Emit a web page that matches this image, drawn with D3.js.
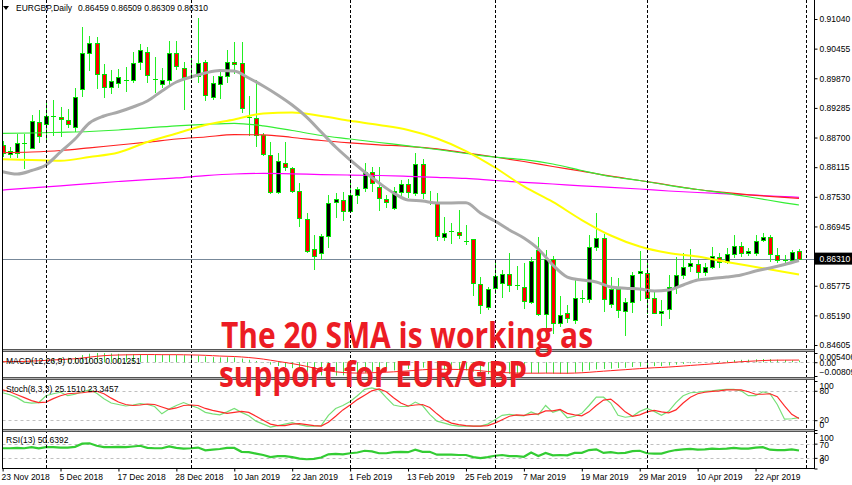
<!DOCTYPE html>
<html><head><meta charset="utf-8">
<script src="https://cdn.jsdelivr.net/npm/d3@7"></script>
<style>html,body{margin:0;padding:0;background:#fff;overflow:hidden}</style>
</head><body>
<svg id="c" width="852" height="485"></svg>
<script>
// ---------- DATA ----------
const opens = [0.88553,0.88375,0.88401,0.88598,0.88499,0.89013,0.88961,0.89125,0.89100,0.89046,
0.88914,0.89652,0.90375,0.90560,0.89948,0.89704,0.89783,0.89836,0.89836,0.90197,
0.90394,0.89850,0.89757,0.89836,0.90363,0.90067,0.89921,0.89915,0.90197,0.89506,
0.89751,0.89915,0.90197,0.90166,0.89100,0.89080,0.88750,0.88355,0.87619,0.88203,
0.88093,0.87645,0.87092,0.86494,0.86415,0.86756,0.87433,0.87467,0.87256,0.87566,
0.87698,0.88026,0.87730,0.87481,0.87303,0.87631,0.87783,0.87599,0.88178,0.87402,
0.87433,0.86743,0.86861,0.86835,0.86664,0.86691,0.85809,0.85349,0.85724,0.85835,
0.86006,0.85783,0.85756,0.85459,0.86480,0.85211,0.86296,0.85045,0.85230,0.85098,
0.85527,0.85507,0.86533,0.86711,0.85414,0.85704,0.85282,0.85459,0.86020,0.86032,
0.85527,0.85242,0.85309,0.85756,0.85987,0.86164,0.86198,0.86052,0.86150,0.86336,
0.86249,0.86401,0.86559,0.86415,0.86427,0.86677,0.86731,0.86381,0.86283,0.86283,0.86459];
const highs = [0.88632,0.88519,0.88770,0.88770,0.89145,0.89244,0.89441,0.89441,0.89309,0.89263,
0.89678,0.90888,0.90704,0.90679,0.90152,0.90033,0.90047,0.90087,0.90394,0.90546,
0.90481,0.90296,0.90067,0.90612,0.90612,0.90197,0.90296,0.91060,0.90231,0.89915,
0.90033,0.90428,0.90592,0.90592,0.89520,0.89836,0.88784,0.88618,0.88389,0.88618,
0.88124,0.87797,0.87216,0.86776,0.86796,0.87566,0.87611,0.87631,0.87876,0.87730,
0.88192,0.88124,0.88124,0.87566,0.87730,0.87862,0.87876,0.88389,0.88270,0.87651,
0.87599,0.87137,0.87013,0.87260,0.86974,0.86705,0.85953,0.85744,0.86218,0.86085,
0.86415,0.86164,0.86218,0.86336,0.86731,0.86480,0.86362,0.85572,0.85394,0.85921,
0.85690,0.86776,0.87205,0.86796,0.85953,0.85921,0.85527,0.86052,0.86466,0.86249,
0.85690,0.85493,0.85987,0.86348,0.86427,0.86494,0.86283,0.86218,0.86545,0.86427,
0.86514,0.86776,0.86644,0.86514,0.86776,0.86810,0.86776,0.86514,0.86381,0.86480,0.86509];
const lows = [0.88336,0.88322,0.88322,0.88099,0.88494,0.88618,0.88618,0.88750,0.88730,0.88908,
0.88835,0.89520,0.90033,0.89672,0.89494,0.89585,0.89692,0.89625,0.89802,0.90047,
0.89802,0.89605,0.89704,0.89737,0.90047,0.89257,0.89869,0.89802,0.89441,0.89455,
0.89475,0.89802,0.89980,0.89210,0.88750,0.88533,0.88355,0.87599,0.87599,0.88059,
0.87631,0.86954,0.86446,0.86099,0.86302,0.86545,0.87137,0.87072,0.87236,0.87402,
0.87651,0.87651,0.87270,0.87335,0.87283,0.87532,0.87532,0.87566,0.87501,0.87388,
0.86677,0.86677,0.86628,0.86717,0.86598,0.85592,0.85242,0.85309,0.85637,0.85558,
0.85677,0.85704,0.85329,0.85440,0.85197,0.84867,0.84836,0.84980,0.85065,0.85033,
0.85459,0.85459,0.86480,0.85286,0.85361,0.85163,0.84802,0.85262,0.85493,0.85230,
0.85230,0.85000,0.85132,0.85625,0.85921,0.86071,0.85902,0.85987,0.86119,0.86139,
0.86218,0.86348,0.86362,0.86381,0.86381,0.86664,0.86269,0.86249,0.86229,0.86249,0.86309];
const closes = [0.88395,0.88440,0.88598,0.88600,0.89032,0.88730,0.89125,0.89127,0.89060,0.88967,
0.89494,0.90363,0.90572,0.89954,0.89704,0.89822,0.89889,0.89838,0.90166,0.90428,
0.89935,0.89852,0.89836,0.90375,0.90112,0.89901,0.89923,0.90166,0.89530,0.89783,
0.89915,0.90197,0.90152,0.89277,0.89102,0.88750,0.88369,0.87619,0.88243,0.88113,
0.87651,0.87106,0.86466,0.86362,0.86756,0.87414,0.87493,0.87256,0.87566,0.87678,
0.88026,0.87797,0.87501,0.87433,0.87651,0.87783,0.87631,0.88178,0.87599,0.87433,
0.86756,0.86822,0.86863,0.86776,0.86666,0.85823,0.85394,0.85704,0.85967,0.86006,
0.85789,0.85785,0.85479,0.86263,0.85211,0.86296,0.85045,0.85197,0.85132,0.85527,
0.85529,0.86533,0.86711,0.85507,0.85704,0.85296,0.85459,0.85987,0.86071,0.85527,
0.85242,0.85282,0.85756,0.85987,0.86150,0.86218,0.86052,0.86139,0.86362,0.86249,
0.86401,0.86559,0.86427,0.86466,0.86664,0.86731,0.86401,0.86283,0.86285,0.86446,0.86310];

// moving averages (sampled: sma20 every 2 bars; others every 4 bars + last bar)
const sma20 = [0.88026,0.87980,0.88049,0.88158,0.88415,0.88671,0.88987,0.89125,0.89204,0.89303,
0.89421,0.89619,0.89796,0.89895,0.89974,0.90023,0.90014,0.89875,0.89717,0.89540,
0.89342,0.89105,0.88809,0.88513,0.88257,0.88020,0.87803,0.87605,0.87467,0.87447,
0.87408,0.87408,0.87414,0.87210,0.87053,0.86875,0.86717,0.86500,0.86184,0.85947,
0.85888,0.85848,0.85750,0.85724,0.85710,0.85671,0.85690,0.85789,0.85888,0.85917,
0.85947,0.85987,0.86065,0.86125,0.86194,0.86273];
const sma50 = [0.88270,0.88257,0.88243,0.88316,0.88405,0.88612,0.88780,0.88948,0.89056,0.89175,
0.89194,0.89125,0.89032,0.88948,0.88849,0.88681,0.88434,0.88109,0.87734,0.87428,
0.87072,0.86766,0.86549,0.86421,0.86352,0.86243,0.86144,0.86046,0.85996];
const sma100 = [0.88784,0.88790,0.88803,0.88819,0.88849,0.88892,0.88932,0.88961,0.88981,0.88932,
0.88839,0.88740,0.88671,0.88602,0.88537,0.88464,0.88385,0.88312,0.88263,0.88178,
0.88049,0.87931,0.87852,0.87757,0.87674,0.87599,0.87507,0.87412,0.87368];
const ema100 = [0.88401,0.88415,0.88444,0.88497,0.88553,0.88608,0.88671,0.88711,0.88756,0.88754,
0.88701,0.88642,0.88596,0.88557,0.88527,0.88478,0.88395,0.88316,0.88227,0.88128,
0.88036,0.87937,0.87852,0.87763,0.87674,0.87613,0.87560,0.87518,0.87501];
const sma200 = [0.87664,0.87708,0.87747,0.87791,0.87832,0.87870,0.87903,0.87947,0.87980,0.87992,
0.87984,0.87968,0.87960,0.87951,0.87935,0.87915,0.87893,0.87852,0.87816,0.87783,
0.87747,0.87718,0.87684,0.87645,0.87615,0.87589,0.87562,0.87534,0.87520];

const macdMain = [0.0006,0.0005,0.0006,0.0008,0.0014,0.0016,0.0020,0.0023,0.0025,0.0026,
0.0030,0.0042,0.0050,0.0054,0.0053,0.0051,0.0049,0.0047,0.0047,0.0048,
0.0046,0.0044,0.0042,0.0044,0.0044,0.0041,0.0039,0.0039,0.0034,0.0030,
0.0028,0.0029,0.0028,0.0021,0.0014,0.0007,-0.0002,-0.0014,-0.0022,-0.0028,
-0.0035,-0.0046,-0.0060,-0.0072,-0.0078,-0.0081,-0.0079,-0.0077,-0.0073,-0.0068,
-0.0061,-0.0056,-0.0054,-0.0052,-0.0048,-0.0043,-0.0040,-0.0034,-0.0032,-0.0032,
-0.0038,-0.0042,-0.0044,-0.0046,-0.0048,-0.0056,-0.0066,-0.0070,-0.0070,-0.0069,
-0.0068,-0.0068,-0.0069,-0.0065,-0.0066,-0.0064,-0.0067,-0.0068,-0.0068,-0.0062,
-0.0055,-0.0048,-0.0042,-0.0040,-0.0038,-0.0034,-0.0033,-0.0028,-0.0026,-0.0024,
-0.0023,-0.0023,-0.0019,-0.0014,-0.0010,-0.0006,-0.0004,-0.0001,0.0003,0.0006,
0.0009,0.0013,0.0014,0.0015,0.0017,0.0019,0.0018,0.0015,0.0013,0.0011,0.001003];
const macdSignal = [0.00030,0.00034,0.00039,0.00047,0.00066,0.00085,0.00108,0.00132,0.00156,0.00177,
0.00202,0.00246,0.00297,0.00346,0.00383,0.00408,0.00424,0.00433,0.00440,0.00448,
0.00450,0.00448,0.00442,0.00442,0.00442,0.00436,0.00427,0.00420,0.00404,0.00383,
0.00362,0.00348,0.00334,0.00309,0.00275,0.00234,0.00183,0.00118,0.00050,-0.00016,
-0.00083,-0.00158,-0.00246,-0.00341,-0.00429,-0.00505,-0.00562,-0.00604,-0.00629,-0.00639,
-0.00633,-0.00618,-0.00602,-0.00586,-0.00565,-0.00538,-0.00510,-0.00476,-0.00445,-0.00420,
-0.00412,-0.00414,-0.00419,-0.00427,-0.00438,-0.00462,-0.00502,-0.00546,-0.00581,-0.00605,
-0.00622,-0.00634,-0.00645,-0.00644,-0.00644,-0.00639,-0.00641,-0.00645,-0.00648,-0.00638,
-0.00620,-0.00592,-0.00558,-0.00526,-0.00497,-0.00466,-0.00439,-0.00407,-0.00378,-0.00350,
-0.00326,-0.00307,-0.00284,-0.00255,-0.00224,-0.00191,-0.00161,-0.00131,-0.00099,-0.00067,
-0.00036,-0.00003,0.00026,0.00051,0.00075,0.00098,0.00114,0.00121,0.00123,0.00124,0.001251];

const stochMain = [76,72,66,57,55,56,70,74,77,70,73,78,82,75,64,55,52,49,51,54,
52,48,33,43,50,56,50,45,36,33,31,37,44,36,29,18,12,6,9,12,
15,11,8,8,9,30,44,50,58,70,83,86,82,66,51,48,48,57,50,32,
18,14,10,8,8,8,8,12,21,30,32,30,29,37,31,50,36,41,25,28,
34,50,67,67,55,30,26,28,38,44,38,30,38,56,70,76,77,79,80,82,
83,83,80,70,70,78,74,52,22,23,25.151];
const stochSignal = [82,78,72,66,60,56,57,64,70,74,75,76,78,79,74,65,57,52,50,51,
53,52,47,42,45,50,51,50,44,40,37,34,36,38,36,28,20,12,9,9,
12,13,11,9,8,16,28,41,51,62,71,80,84,78,66,55,49,51,52,46,
33,21,14,11,9,8,8,9,14,21,28,31,30,32,33,39,39,42,34,31,
29,37,50,61,63,51,37,28,31,37,40,37,35,41,55,67,74,77,79,80,
82,82,82,78,73,73,74,68,49,32,23.3457];
const rsi = [57,57,58,57,60,57,60,60,59,59,61,70,71,64,60,60,61,60,62,64,
58,57,57,62,58,56,57,59,51,53,55,58,58,47,46,42,38,32,35,35,
32,28,26,27,31,40,41,40,43,45,50,48,43,43,46,47,46,53,47,47,
39,39,39,38,38,32,29,32,36,38,35,35,33,45,35,44,37,38,37,44,
44,52,54,44,46,43,44,49,50,43,42,42,48,52,54,55,53,54,56,55,
56,58,56,56,59,60,53,52,52,54,50.6392];

const tickBars = [0,8,16,24,32,40,48,56,64,72,80,88,96,104];
const tickLabels = ["23 Nov 2018","5 Dec 2018","17 Dec 2018","28 Dec 2018","10 Jan 2019","22 Jan 2019",
"1 Feb 2019","13 Feb 2019","25 Feb 2019","7 Mar 2019","19 Mar 2019","29 Mar 2019","10 Apr 2019","22 Apr 2019"];
const monthStartBars = [6,26,48,68,89,111];
const priceTicks = [0.91040,0.90455,0.89870,0.89285,0.88700,0.88115,0.87530,0.86945,0.86360,0.85775,0.85190,0.84605];
const lastPrice = 0.86310;
const header = {symbol:"EURGBP,Daily", values:"0.86459 0.86509 0.86309 0.86310"};
const macdLabel = "MACD(12,26,9) 0.001003 0.001251";
const stochLabel = "Stoch(8,3,3) 25.1510 23.3457";
const rsiLabel = "RSI(13) 50.6392";
const overlayLines = ["The 20 SMA is working as", "support for EUR/GBP"];

// ---------- DRAW ----------
const F = "'Liberation Sans', Arial, sans-serif";
const svg = d3.select('#c');
const n = closes.length;
const xL = 2.5, xR = 814.5;
const x = d3.scaleLinear().domain([0, 110]).range([2.6, 799]);
const yP = d3.scaleLinear().domain([0.84605, 0.91040]).range([345, 19]);
const yM = d3.scaleLinear().domain([-0.008098, 0.005406]).range([376, 353]);
const yS = d3.scaleLinear().domain([0, 100]).range([430, 381]);
const yR = d3.scaleLinear().domain([0, 100]).range([468.5, 433]);
const px = i => Math.round(x(i)) + 0.5;

svg.append('rect').attr('width', 852).attr('height', 485).attr('fill', '#fff');

const defs = svg.append('defs');
function clip(id, y0, y1) {
  defs.append('clipPath').attr('id', id).append('rect')
    .attr('x', xL).attr('y', y0).attr('width', xR - xL).attr('height', y1 - y0);
  return svg.append('g').attr('clip-path', `url(#${id})`);
}
const gMain = clip('cm', 0, 349);
const gMacd = clip('cd', 352, 377);
const gSto = clip('cs', 380, 429);
const gRsi = clip('cr', 432, 468);

// grid dashed levels
gMacd.append('line').attr('x1', xL).attr('x2', xR).attr('y1', Math.round(yM(0)) + 0.5).attr('y2', Math.round(yM(0)) + 0.5)
  .attr('stroke', '#c0c0c0').attr('stroke-dasharray', '3,3');
[80, 20].forEach(v => gSto.append('line').attr('x1', xL).attr('x2', xR)
  .attr('y1', Math.round(yS(v)) + 0.5).attr('y2', Math.round(yS(v)) + 0.5)
  .attr('stroke', '#c0c0c0').attr('stroke-dasharray', '3,3'));
[70, 30].forEach(v => gRsi.append('line').attr('x1', xL).attr('x2', xR)
  .attr('y1', Math.round(yR(v)) + 0.5).attr('y2', Math.round(yR(v)) + 0.5)
  .attr('stroke', '#c0c0c0').attr('stroke-dasharray', '3,3'));

// month separators
monthStartBars.forEach(b => {
  svg.append('line').attr('x1', px(b)).attr('x2', px(b)).attr('y1', 0).attr('y2', 468)
    .attr('stroke', '#000').attr('stroke-dasharray', '3,2');
});

// last price line
gMain.append('line').attr('x1', xL).attr('x2', xR)
  .attr('y1', Math.round(yP(lastPrice)) + 0.5).attr('y2', Math.round(yP(lastPrice)) + 0.5)
  .attr('stroke', '#778899').attr('stroke-width', 1);

// candles
const wickC = '#22ee22', edgeC = '#00e000';
for (let i = 0; i < n; i++) {
  const cx = px(i);
  gMain.append('line').attr('x1', cx).attr('x2', cx)
    .attr('y1', Math.round(yP(highs[i]))).attr('y2', Math.round(yP(lows[i])) + 1)
    .attr('stroke', wickC).attr('stroke-width', 1);
  const top = Math.round(yP(Math.max(opens[i], closes[i])));
  const bot = Math.round(yP(Math.min(opens[i], closes[i])));
  if (bot - top < 2) {
    gMain.append('line').attr('x1', cx - 2.5).attr('x2', cx + 2.5)
      .attr('y1', top + 0.5).attr('y2', top + 0.5).attr('stroke', edgeC);
  } else {
    gMain.append('rect').attr('x', cx - 2).attr('y', top + 0.5)
      .attr('width', 4).attr('height', bot - top)
      .attr('fill', closes[i] >= opens[i] ? '#000' : '#ff0000')
      .attr('stroke', edgeC).attr('stroke-width', 1);
  }
}

// moving averages
const bars2 = d3.range(0, 111, 2);
const bars4 = d3.range(0, 109, 4).concat([110]);
function maLine(vals, bars, color, w) {
  const line = d3.line().x((d, k) => x(bars[k])).y(d => yP(d)).curve(d3.curveMonotoneX);
  gMain.append('path').datum(vals).attr('d', line).attr('fill', 'none')
    .attr('stroke', color).attr('stroke-width', w).attr('stroke-linejoin', 'round');
}
maLine(sma200, bars4, '#ff00ff', 1.2);
maLine(ema100, bars4, '#ff2020', 1.2);
maLine(sma100, bars4, '#33ee33', 1.2);
maLine(sma50, bars4, '#ffff00', 2);
maLine(sma20, bars2, '#a9a9a9', 3);

// MACD
macdMain.forEach((v, i) => {
  gMacd.append('line').attr('x1', px(i)).attr('x2', px(i))
    .attr('y1', yM(0)).attr('y2', yM(v)).attr('stroke', '#44dd44').attr('stroke-width', 1);
});
gMacd.append('path').datum(macdSignal)
  .attr('d', d3.line().x((d, i) => x(i)).y(d => yM(d)))
  .attr('fill', 'none').attr('stroke', '#ff2020').attr('stroke-width', 1);

// Stochastic
gSto.append('path').datum(stochMain)
  .attr('d', d3.line().x((d, i) => x(i)).y(d => yS(d)))
  .attr('fill', 'none').attr('stroke', '#77e077').attr('stroke-width', 1.2);
gSto.append('path').datum(stochSignal)
  .attr('d', d3.line().x((d, i) => x(i)).y(d => yS(d)))
  .attr('fill', 'none').attr('stroke', '#ff2a2a').attr('stroke-width', 1.2);

// RSI
gRsi.append('path').datum(rsi)
  .attr('d', d3.line().x((d, i) => x(i)).y(d => yR(d)))
  .attr('fill', 'none').attr('stroke', '#33cc33').attr('stroke-width', 2.2);

// panel separators & borders
[[349, 352], [377, 380], [429, 432]].forEach(([a, b]) => {
  svg.append('rect').attr('x', 2).attr('y', a).attr('width', 813).attr('height', b - a).attr('fill', '#b0b0b0');
  svg.append('line').attr('x1', 2).attr('x2', 815).attr('y1', a + 0.5).attr('y2', a + 0.5).attr('stroke', '#555');
  svg.append('line').attr('x1', 2).attr('x2', 815).attr('y1', b - 0.5).attr('y2', b - 0.5).attr('stroke', '#555');
});
svg.append('line').attr('x1', xL).attr('x2', xL).attr('y1', 0).attr('y2', 469).attr('stroke', '#000');
svg.append('line').attr('x1', xR).attr('x2', xR).attr('y1', 0).attr('y2', 469).attr('stroke', '#000');
svg.append('line').attr('x1', 2).attr('x2', 815).attr('y1', 468.5).attr('y2', 468.5).attr('stroke', '#000');

// axes
function styleAxis(g) {
  g.select('.domain').remove();
  g.selectAll('text').attr('font-family', F).attr('font-size', 8.5).attr('fill', '#000');
  g.selectAll('line').attr('stroke', '#000');
}
const axP = svg.append('g').attr('transform', `translate(${xR},0)`)
  .call(d3.axisRight(yP).tickValues(priceTicks).tickFormat(d3.format('.5f')).tickSize(3).tickPadding(2));
styleAxis(axP);
// the tick label that sits under the last-price box is hidden by it, as in the terminal
axP.selectAll('.tick').filter(d => Math.abs(yP(d) - yP(lastPrice)) < 8).select('text').remove();

function subAxis(scale, vals, fmt, offs) {
  const g = svg.append('g').attr('transform', `translate(${xR},0)`)
    .call(d3.axisRight(scale).tickValues(vals).tickFormat(fmt).tickSize(3).tickPadding(2));
  styleAxis(g);
  g.selectAll('text').attr('y', (d, i) => offs[i]);
  return g;
}
subAxis(yM, [0.005406, 0, -0.008098], d => d === 0 ? '0.00' : d3.format('.6f')(d), [3.5, 0.8, -4]);
subAxis(yS, [100, 80, 20, 0], d => String(d), [5, 0.2, -0.2, -5.5]);
subAxis(yR, [100, 70, 30, 0], d => String(d), [4.5, 0.8, -0.4, -8]);

// last price box
const yl = yP(lastPrice);
svg.append('rect').attr('x', 815).attr('y', yl - 6).attr('width', 37).attr('height', 12).attr('fill', '#000');
svg.append('text').attr('x', 819.5).attr('y', yl + 3).attr('font-family', F).attr('font-size', 8.5)
  .attr('fill', '#fff').text(d3.format('.5f')(lastPrice));

// x axis
const axX = svg.append('g').attr('transform', 'translate(0,468.5)')
  .call(d3.axisBottom(x).tickValues(tickBars).tickFormat((d, i) => tickLabels[i]).tickSize(3).tickPadding(2));
styleAxis(axX);
axX.selectAll('text').attr('text-anchor', 'start').attr('dx', -1.5);

// header
svg.append('path').attr('d', 'M3,6 L9,6 L6,10 Z').attr('fill', '#000');
svg.append('text').attr('x', 16).attr('y', 10.5).attr('font-family', F).attr('font-size', 8.5).text(header.symbol);
svg.append('text').attr('x', 78).attr('y', 10.5).attr('font-family', F).attr('font-size', 8.5).text(header.values);

// indicator labels
svg.append('text').attr('x', 6).attr('y', 363.5).attr('font-family', F).attr('font-size', 8.5).text(macdLabel);
svg.append('text').attr('x', 6).attr('y', 392.3).attr('font-family', F).attr('font-size', 8.5).text(stochLabel);
svg.append('text').attr('x', 6).attr('y', 443).attr('font-family', F).attr('font-size', 8.5).text(rsiLabel);

// overlay annotation
const OF = "'Open Sans', 'Noto Sans', sans-serif";
svg.append('text').attr('x', 221).attr('y', 348).attr('font-family', OF).attr('font-weight', 700)
  .attr('font-size', 36).attr('fill', '#ec1c24').attr('textLength', 372).attr('lengthAdjust', 'spacingAndGlyphs')
  .text(overlayLines[0]);
svg.append('text').attr('x', 219).attr('y', 387).attr('font-family', OF).attr('font-weight', 700)
  .attr('font-size', 36).attr('fill', '#ec1c24').attr('textLength', 308).attr('lengthAdjust', 'spacingAndGlyphs')
  .text(overlayLines[1]);
</script>
</body></html>
